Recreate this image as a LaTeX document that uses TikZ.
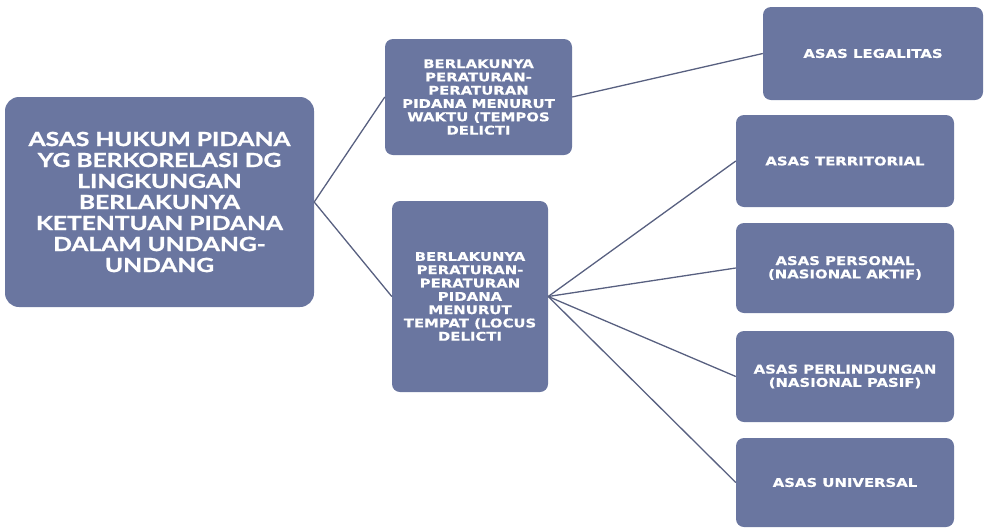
\documentclass[tikz,border=0pt]{standalone}
\usepackage{fontspec}
\setmainfont{Lato}
\newfontfamily\smallfont[FakeStretch=1.24, BoldFont={DejaVu Sans Bold}, BoldFeatures={FakeBold=0.6}]{DejaVu Sans}
\newfontfamily\rootfont[FakeStretch=1.26, BoldFont={Lato Bold}, BoldFeatures={FakeBold=1.2}]{Lato}
\definecolor{boxfill}{RGB}{106,118,160}
\definecolor{linkcol}{RGB}{88,96,128}
\tikzset{
  box/.style={draw=none, fill=boxfill, rounded corners=8pt, text=white,
    font=\smallfont\bfseries\fontsize{12}{13.3}\selectfont, align=center, inner sep=0pt},
  rootbox/.style={box, rounded corners=14pt, font=\rootfont\bfseries\fontsize{19.5}{21}\selectfont},
  link/.style={draw=linkcol, line width=1.3pt}
}
\begin{document}
\begin{tikzpicture}[x=1pt,y=-1pt]
\useasboundingbox (0,0) rectangle (986,528);

% root
\node [rootbox, minimum width=309, minimum height=210] (root) at (159.5,202)
  {ASAS HUKUM PIDANA\\YG BERKORELASI DG\\LINGKUNGAN\\BERLAKUNYA\\KETENTUAN PIDANA\\DALAM UNDANG-\\UNDANG};

% second level
\node [box, minimum width=187, minimum height=116] (waktu) at (478.5,97)
  {BERLAKUNYA\\PERATURAN-\\PERATURAN\\PIDANA MENURUT\\WAKTU (TEMPOS\\DELICTI};
\node [box, minimum width=156, minimum height=191] (tempat) at (470,296.5)
  {BERLAKUNYA\\PERATURAN-\\PERATURAN\\PIDANA\\MENURUT\\TEMPAT (LOCUS\\DELICTI};

% third level
\node [box, minimum width=220, minimum height=93] (legal) at (873,53.5) {ASAS LEGALITAS};
\node [box, minimum width=218, minimum height=92] (terr) at (845,161) {ASAS TERRITORIAL};
\node [box, minimum width=218, minimum height=90] (pers) at (845,268) {ASAS PERSONAL\\(NASIONAL AKTIF)};
\node [box, minimum width=218, minimum height=91] (perl) at (845,376.5) {ASAS PERLINDUNGAN\\(NASIONAL PASIF)};
\node [box, minimum width=218, minimum height=89] (univ) at (845,482.5) {ASAS UNIVERSAL};

% links
\draw [link] (root.east) -- (waktu.west);
\draw [link] (root.east) -- (tempat.west);
\draw [link] (waktu.east) -- (legal.west);
\draw [link] (tempat.east) -- (terr.west);
\draw [link] (tempat.east) -- (pers.west);
\draw [link] (tempat.east) -- (perl.west);
\draw [link] (tempat.east) -- (univ.west);
\end{tikzpicture}
\end{document}
